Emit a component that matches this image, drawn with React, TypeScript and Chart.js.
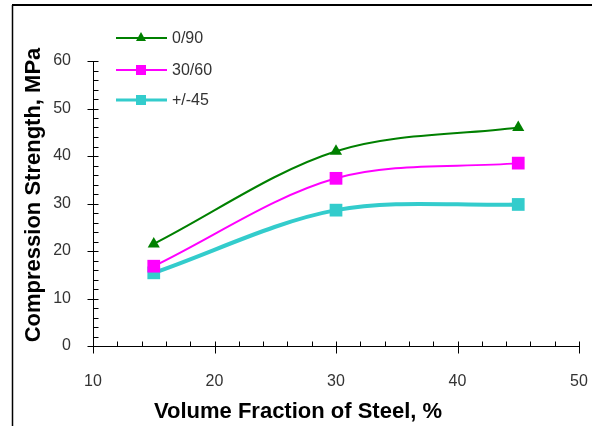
import React, { useEffect, useRef } from "react";
import { Chart, registerables } from "chart.js";

Chart.register(...registerables);

const seriesNames = ["0/90", "30/60", "+/-45"];
const volumeFraction = [15, 30, 45];
const strength090 = [21.5, 41, 46];
const strength3060 = [16.8, 35.3, 38.5];
const strength45 = [15.4, 28.6, 29.8];
const xTickValues = [10, 20, 30, 40, 50];
const yTickValues = [0, 10, 20, 30, 40, 50, 60];
const xTitle = "Volume Fraction of Steel, %";
const yTitle = "Compression Strength, MPa";

const FONT = "'Liberation Sans', Arial, sans-serif";
const colors = ["#008000", "#ff00ff", "#33cccc"];
const widths = [2, 2, 4];
const styles = ["triangle", "rect", "rect"];
const radii = [7, 9, 9];

const toPoints = (ys: number[]) => volumeFraction.map((x, i) => ({ x, y: ys[i] }));

const decorPlugin = {
  id: "decor",
  beforeDraw(chart: any) {
    const ctx = chart.ctx;
    ctx.save();
    ctx.fillStyle = "#ffffff";
    ctx.fillRect(0, 0, chart.width, chart.height);
    ctx.strokeStyle = "#000";
    ctx.lineWidth = 2;
    ctx.beginPath();
    ctx.moveTo(12, 5);
    ctx.lineTo(chart.width, 5);
    ctx.stroke();
    ctx.lineWidth = 1.5;
    ctx.beginPath();
    ctx.moveTo(12.5, 5);
    ctx.lineTo(12.5, chart.height);
    ctx.stroke();
    ctx.restore();
  },
  beforeDatasetsDraw(chart: any) {
    const ctx = chart.ctx;
    const xs = chart.scales.x;
    const ys = chart.scales.y;
    const x0 = Math.round(xs.getPixelForValue(xs.min)) + 0.5;
    const x1 = xs.getPixelForValue(xs.max);
    const y0 = Math.round(ys.getPixelForValue(ys.min)) + 0.5;
    const y1 = ys.getPixelForValue(ys.max);
    ctx.save();
    ctx.strokeStyle = "#000";
    ctx.lineWidth = 1;
    ctx.beginPath();
    ctx.moveTo(x0, y1);
    ctx.lineTo(x0, y0);
    ctx.lineTo(x1, y0);
    for (let v = ys.min; v <= ys.max + 1e-9; v += 2) {
      const p = Math.round(ys.getPixelForValue(v)) + 0.5;
      if (v % 10 === 0) {
        ctx.moveTo(x0 - 6, p);
        ctx.lineTo(x0 + 5, p);
      } else {
        ctx.moveTo(x0, p);
        ctx.lineTo(x0 + 5, p);
      }
    }
    for (let v = xs.min; v <= xs.max + 1e-9; v += 2) {
      const p = Math.round(xs.getPixelForValue(v)) + 0.5;
      if (v % 10 === 0) {
        ctx.moveTo(p, y0 - 5);
        ctx.lineTo(p, y0 + 7);
      } else {
        ctx.moveTo(p, y0 - 5);
        ctx.lineTo(p, y0);
      }
    }
    ctx.stroke();

    // axis titles
    ctx.fillStyle = "#000";
    ctx.font = `bold 22px ${FONT}`;
    ctx.textAlign = "center";
    ctx.textBaseline = "alphabetic";
    ctx.fillText(xTitle, 298, 418);
    ctx.save();
    ctx.translate(40, 195);
    ctx.rotate(-Math.PI / 2);
    ctx.fillText(yTitle, 0, 0);
    ctx.restore();

    // legend
    const rows = [38, 70, 100];
    chart.data.datasets.forEach((ds: any, i: number) => {
      const y = rows[i];
      ctx.strokeStyle = colors[i];
      ctx.lineWidth = widths[i] === 4 ? 3 : 2;
      ctx.beginPath();
      ctx.moveTo(116, y);
      ctx.lineTo(167, y);
      ctx.stroke();
      ctx.fillStyle = colors[i];
      ctx.beginPath();
      if (styles[i] === "triangle") {
        ctx.moveTo(141, y - 6);
        ctx.lineTo(146, y + 3);
        ctx.lineTo(136, y + 3);
        ctx.closePath();
        ctx.fill();
      } else {
        ctx.fillRect(136, y - 5, 10, 10);
      }
      ctx.fillStyle = "#333";
      ctx.font = `16px ${FONT}`;
      ctx.textAlign = "left";
      ctx.textBaseline = "middle";
      ctx.fillText(ds.label, 172, y + 1);
    });
    ctx.restore();
  },
};

export default function App() {
  const ref = useRef<HTMLCanvasElement | null>(null);
  useEffect(() => {
    if (!ref.current) return;
    const seriesData = [strength090, strength3060, strength45];
    const chart = new Chart(ref.current, {
      type: "line",
      data: {
        datasets: seriesNames.map((name, i) => ({
          label: name,
          data: toPoints(seriesData[i]),
          borderColor: colors[i],
          backgroundColor: colors[i],
          borderWidth: widths[i],
          pointStyle: styles[i] as any,
          pointRadius: radii[i],
          pointBorderWidth: 0,
          pointBackgroundColor: colors[i],
          tension: 0.33,
          fill: false,
        })),
      },
      options: {
        responsive: false,
        animation: false,
        layout: { autoPadding: false, padding: { top: 61, right: 13, left: 0, bottom: 0 } },
        plugins: { legend: { display: false }, tooltip: { enabled: false } },
        scales: {
          x: {
            type: "linear",
            min: 10,
            max: 50,
            afterBuildTicks: (s: any) => {
              s.ticks = xTickValues.map((v) => ({ value: v }));
            },
            afterFit: (s: any) => {
              s.height = 80;
              s.paddingLeft = 0;
              s.paddingRight = 0;
            },
            grid: { display: false, drawTicks: false },
            border: { display: false },
            ticks: { padding: 26, color: "#333", font: { family: FONT, size: 16 } },
          },
          y: {
            type: "linear",
            min: 0,
            max: 60,
            afterBuildTicks: (s: any) => {
              s.ticks = yTickValues.map((v) => ({ value: v }));
            },
            afterFit: (s: any) => {
              s.width = 93;
              s.paddingTop = 0;
              s.paddingBottom = 0;
            },
            grid: { display: false, drawTicks: false },
            border: { display: false },
            ticks: { padding: 22, color: "#333", font: { family: FONT, size: 16 } },
          },
        },
      },
      plugins: [decorPlugin],
    });
    return () => chart.destroy();
  }, []);
  return (
    <div style={{ position: "fixed", left: 0, top: 0, width: 592, height: 426, background: "#fff" }}>
      <canvas ref={ref} width={592} height={426} style={{ display: "block", width: 592, height: 426 }} />
    </div>
  );
}
